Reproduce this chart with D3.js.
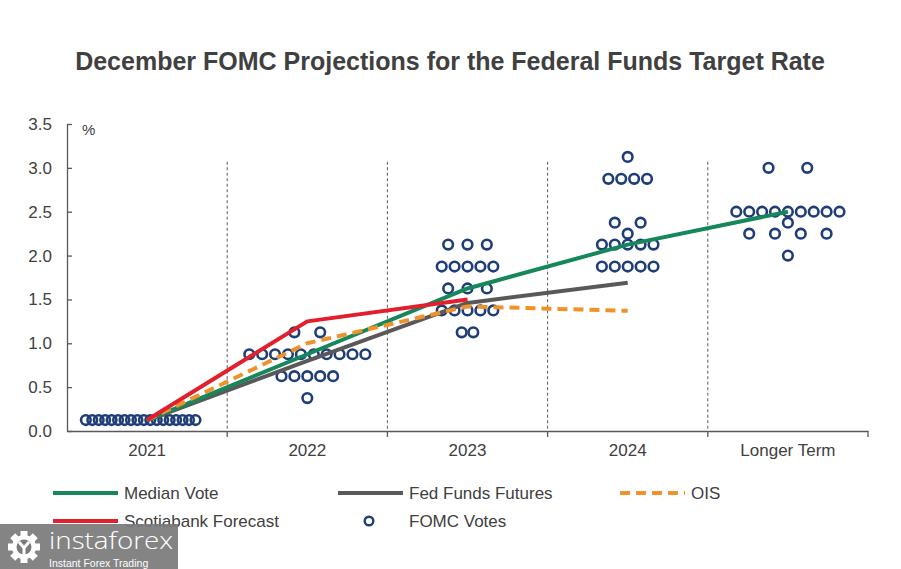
<!DOCTYPE html>
<html><head><meta charset="utf-8">
<script src="https://cdn.jsdelivr.net/npm/d3@7"></script>
<style>
body{margin:0;background:#fff;}
svg{display:block;font-family:"Liberation Sans",Arial,sans-serif;}
</style></head>
<body><svg id="c" width="901" height="569"></svg>
<script>
// ---------- data ----------
const categories = ["2021","2022","2023","2024","Longer Term"];
const yTicks = [0,0.5,1.0,1.5,2.0,2.5,3.0,3.5];

const medianVote   = [0.125, 0.875, 1.625, 2.125, 2.5];
const fedFunds     = [0.12, 0.80, 1.46, 1.69];
const ois          = [0.125, 1.00, 1.42, 1.37];
const scotiabank   = [0.125, 1.25, 1.50];

// FOMC votes: [rate, slot] — slot = horizontal jitter position of the dot in the plot
const votes2021 = [
  [0.125,-4.75],[0.125,-4.25],[0.125,-3.75],[0.125,-3.25],[0.125,-2.75],[0.125,-2.25],
  [0.125,-1.75],[0.125,-1.25],[0.125,-0.75],[0.125,-0.25],[0.125,0.25],[0.125,0.75],
  [0.125,1.25],[0.125,1.75],[0.125,2.25],[0.125,2.75],[0.125,3.25],[0.125,3.75]];
const votes2022 = [
  [1.125,-1],[1.125,1],
  [0.875,-4.5],[0.875,-3.5],[0.875,-2.5],[0.875,-1.5],[0.875,-0.5],[0.875,0.5],[0.875,1.5],[0.875,2.5],[0.875,3.5],[0.875,4.5],
  [0.625,-2],[0.625,-1],[0.625,0],[0.625,1],[0.625,2],
  [0.375,0]];
const votes2023 = [
  [2.125,-1.5],[2.125,0],[2.125,1.5],
  [1.875,-2],[1.875,-1],[1.875,0],[1.875,1],[1.875,2],
  [1.625,-1.5],[1.625,0],[1.625,1.5],
  [1.375,-2],[1.375,-1],[1.375,0],[1.375,1],[1.375,2],
  [1.125,-0.45],[1.125,0.45]];
const votes2024 = [
  [3.125,0],
  [2.875,-1.5],[2.875,-0.5],[2.875,0.5],[2.875,1.5],
  [2.375,-1],[2.375,1],
  [2.25,0],
  [2.125,-2],[2.125,-1],[2.125,0],[2.125,1],[2.125,2],
  [1.875,-2],[1.875,-1],[1.875,0],[1.875,1],[1.875,2]];
const votesLonger = [
  [3.0,-1.5],[3.0,1.5],
  [2.5,-4],[2.5,-3],[2.5,-2],[2.5,-1],[2.5,0],[2.5,1],[2.5,2],[2.5,3],[2.5,4],
  [2.375,0],
  [2.25,-3],[2.25,-1],[2.25,1],[2.25,3],
  [2.0,0]];
const fomcVotes = [votes2021, votes2022, votes2023, votes2024, votesLonger];

// ---------- styling ----------
const C = {green:"#16875a", gray:"#595959", orange:"#f0922b", red:"#e21f2d", navy:"#1f3e78", text:"#404040", axis:"#595959"};
const svg = d3.select("#c");

const x = d3.scaleBand().domain(categories).range([67, 868]).padding(0);
const y = d3.scaleLinear().domain([0, 3.5]).range([431, 124]);
const cx = c => x(c) + x.bandwidth()/2;
const slotW = 12.9;

// title
svg.append("text").attr("x", 450).attr("y", 70).attr("text-anchor","middle")
  .attr("font-size", 25).attr("font-weight","bold").attr("fill", C.text)
  .text("December FOMC Projections for the Federal Funds Target Rate");

// dashed dividers
svg.append("g").selectAll("line").data(categories.slice(1)).join("line")
  .attr("x1", d => x(d)).attr("x2", d => x(d))
  .attr("y1", y(3.07)).attr("y2", y(0))
  .attr("stroke", C.axis).attr("stroke-width", 1).attr("stroke-dasharray","3,2.5");

// y axis
const yAxis = d3.axisLeft(y).tickValues(yTicks).tickFormat(d3.format(".1f")).tickSizeInner(-5).tickSizeOuter(0).tickPadding(15);
const gy = svg.append("g").attr("transform","translate(67,0)").call(yAxis);
gy.select(".domain").attr("stroke", C.axis).attr("stroke-width",1.3);
gy.selectAll(".tick line").attr("stroke", C.axis).attr("stroke-width",1.3);
gy.selectAll(".tick text").attr("font-size", 17).attr("fill", C.text).attr("font-family","Liberation Sans, Arial, sans-serif");
svg.append("text").attr("x", 82).attr("y", 135).attr("font-size", 15).attr("fill", C.text).text("%");

// x axis
const xAxis = d3.axisBottom(x).tickSize(0).tickPadding(13);
const gx = svg.append("g").attr("transform", `translate(0,${y(0)})`).call(xAxis);
gx.select(".domain").attr("stroke", C.axis).attr("stroke-width",1.3);
gx.selectAll(".tick text").attr("font-size", 17).attr("fill", C.text).attr("font-family","Liberation Sans, Arial, sans-serif");
svg.append("g").selectAll("line").data(categories).join("line")
  .attr("x1", d => x(d)+x.bandwidth()).attr("x2", d => x(d)+x.bandwidth())
  .attr("y1", y(0)).attr("y2", y(0)+6).attr("stroke", C.axis).attr("stroke-width",1.3);

// lines
const line = d3.line().x((d,i) => cx(categories[i])).y(d => y(d));
function drawLine(data, color, dash){
  svg.append("path").datum(data).attr("d", line).attr("fill","none")
    .attr("stroke", color).attr("stroke-width", 4).attr("stroke-linejoin","round")
    .attr("stroke-dasharray", dash || null);
}

// dots
const gd = svg.append("g");
fomcVotes.forEach((arr, ci) => {
  gd.selectAll(null).data(arr).join("circle")
    .attr("cx", d => cx(categories[ci]) + d[1]*slotW)
    .attr("cy", d => y(d[0]))
    .attr("r", 4.8).attr("fill","none").attr("stroke", C.navy).attr("stroke-width", 2.6);
});

drawLine(fedFunds, C.gray);
drawLine(medianVote, C.green);
drawLine(ois, C.orange, "10,6");
drawLine(scotiabank, C.red);

// legend
const legend = [
  {label:"Median Vote", color:C.green, x:53, y:493, type:"line"},
  {label:"Fed Funds Futures", color:C.gray, x:338, y:493, type:"line"},
  {label:"OIS", color:C.orange, x:620, y:493, type:"dash"},
  {label:"Scotiabank Forecast", color:C.red, x:53, y:521, type:"line"},
  {label:"FOMC Votes", color:C.navy, x:338, y:521, type:"dot"}
];
const gl = svg.append("g");
legend.forEach(l => {
  if (l.type === "dot") {
    gl.append("circle").attr("cx", l.x+31).attr("cy", l.y).attr("r", 4.3)
      .attr("fill","none").attr("stroke", l.color).attr("stroke-width", 2.4);
  } else {
    gl.append("line").attr("x1", l.x).attr("x2", l.x+65).attr("y1", l.y).attr("y2", l.y)
      .attr("stroke", l.color).attr("stroke-width", 4)
      .attr("stroke-dasharray", l.type==="dash" ? "10,6" : null);
  }
  gl.append("text").attr("x", l.x+71).attr("y", l.y+6).attr("font-size", 17).attr("fill", C.text).text(l.label);
});

// watermark
const wm = svg.append("g");
wm.append("rect").attr("x",0).attr("y",524).attr("width",178).attr("height",45).attr("fill","#7a7a7a").attr("opacity",0.92);
const gear = wm.append("g").attr("transform","translate(24,547)");
d3.range(8).forEach(i => {
  gear.append("rect").attr("x",-3.5).attr("y",-16).attr("width",7).attr("height",8)
    .attr("fill","#fff").attr("transform",`rotate(${i*45})`);
});
gear.append("circle").attr("r",12).attr("fill","#fff");
gear.append("circle").attr("r",7.5).attr("fill","#7a7a7a");
gear.append("path").attr("d","M-5,-5 L0,1 L5,-5 M0,1 L0,9").attr("stroke","#fff").attr("stroke-width",3).attr("fill","none");
wm.append("text").attr("x",49).attr("y",549).attr("font-size",24).attr("fill","#fff")
  .attr("textLength",124).attr("lengthAdjust","spacingAndGlyphs")
  .attr("font-family","'Open Sans','DejaVu Sans',sans-serif").attr("font-weight",300).text("instaforex");
wm.append("text").attr("x",49).attr("y",567).attr("font-size",10.5).attr("fill","#fff")
  .attr("font-family","'Liberation Sans',Arial,sans-serif").text("Instant Forex Trading");
</script></body></html>
